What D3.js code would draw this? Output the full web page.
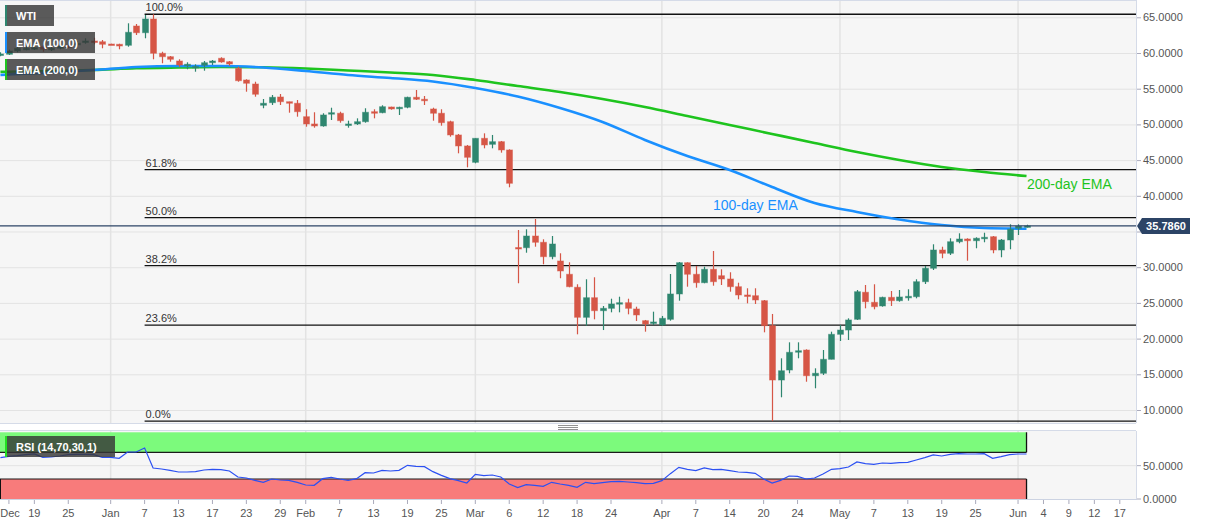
<!DOCTYPE html>
<html><head><meta charset="utf-8">
<script src="https://cdn.jsdelivr.net/npm/d3@7"></script>
<style>
body{margin:0;background:#fff;}
svg{display:block;font-family:"Liberation Sans",Arial,sans-serif;}
</style>
</head><body>
<svg id="c" width="1207" height="526"></svg>
<script>
// ---------------- DATA ----------------
const dates = [
"2019-12-13","2019-12-16","2019-12-17","2019-12-18","2019-12-19","2019-12-20","2019-12-23","2019-12-24","2019-12-25","2019-12-26","2019-12-27","2019-12-30","2019-12-31",
"2020-01-01","2020-01-02","2020-01-03","2020-01-06","2020-01-07","2020-01-08","2020-01-09","2020-01-10","2020-01-13","2020-01-14","2020-01-15","2020-01-16","2020-01-17","2020-01-20","2020-01-21","2020-01-22","2020-01-23","2020-01-24","2020-01-27","2020-01-28","2020-01-29","2020-01-30","2020-01-31",
"2020-02-03","2020-02-04","2020-02-05","2020-02-06","2020-02-07","2020-02-10","2020-02-11","2020-02-12","2020-02-13","2020-02-14","2020-02-17","2020-02-18","2020-02-19","2020-02-20","2020-02-21","2020-02-24","2020-02-25","2020-02-26","2020-02-27","2020-02-28",
"2020-03-02","2020-03-03","2020-03-04","2020-03-05","2020-03-06","2020-03-09","2020-03-10","2020-03-11","2020-03-12","2020-03-13","2020-03-16","2020-03-17","2020-03-18","2020-03-19","2020-03-20","2020-03-23","2020-03-24","2020-03-25","2020-03-26","2020-03-27","2020-03-30","2020-03-31",
"2020-04-01","2020-04-02","2020-04-03","2020-04-06","2020-04-07","2020-04-08","2020-04-09","2020-04-13","2020-04-14","2020-04-15","2020-04-16","2020-04-17","2020-04-20","2020-04-21","2020-04-22","2020-04-23","2020-04-24","2020-04-27","2020-04-28","2020-04-29","2020-04-30",
"2020-05-01","2020-05-04","2020-05-05","2020-05-06","2020-05-07","2020-05-08","2020-05-11","2020-05-12","2020-05-13","2020-05-14","2020-05-15","2020-05-18","2020-05-19","2020-05-20","2020-05-21","2020-05-22","2020-05-25","2020-05-26","2020-05-27","2020-05-28","2020-05-29",
"2020-06-01","2020-06-02"];
const futureDates = ["2020-06-03","2020-06-04","2020-06-05","2020-06-08","2020-06-09","2020-06-10","2020-06-11","2020-06-12","2020-06-15","2020-06-16","2020-06-17"];

const open = [
59.82,59.82,60.28,60.63,60.70,60.88,60.60,60.66,60.98,61.26,61.64,61.68,61.58,
61.26,61.22,61.08,63.78,62.84,64.76,59.96,59.48,58.88,58.32,58.04,58.28,58.64,59.26,58.78,57.86,56.22,55.66,52.68,53.04,53.84,53.18,52.96,
51.08,50.06,49.78,51.56,51.56,50.01,50.06,50.38,51.78,51.64,52.44,52.26,52.40,53.80,53.52,52.16,51.56,50.38,48.52,46.98,
44.69,48.05,47.21,47.58,46.42,32.76,32.73,34.37,33.49,31.47,30.87,29.01,27.19,22.98,25.73,23.91,24.24,24.99,25.03,24.15,22.51,22.19,
21.91,22.70,26.25,30.63,29.01,27.83,29.71,28.81,28.35,27.27,26.11,26.01,25.31,21.81,14.20,15.60,18.26,18.40,14.80,15.14,17.10,
20.60,21.20,22.70,26.49,25.08,24.57,25.78,25.31,25.83,25.87,27.97,29.85,32.41,31.95,33.57,33.95,33.71,34.13,34.27,32.41,33.81,
35.45,35.74];
const high = [
60.10,60.46,60.88,61.02,61.12,61.12,61.02,61.22,61.16,61.68,62.06,62.14,61.82,
61.30,61.30,64.16,64.06,65.32,65.43,60.18,59.58,59.12,58.70,58.42,58.88,59.02,59.40,58.88,58.08,56.32,55.98,53.56,54.12,54.26,53.18,53.42,
52.12,51.70,51.56,52.34,51.78,50.52,50.85,52.26,52.12,52.68,52.48,52.48,53.88,54.82,53.98,52.34,52.12,50.52,48.66,47.12,
48.05,48.75,48.52,47.68,46.51,35.21,35.31,36.75,33.91,34.37,31.95,30.69,27.61,28.31,28.59,24.57,25.59,25.87,25.59,24.47,22.61,23.77,
23.17,29.05,30.73,30.69,30.17,30.07,32.27,29.71,29.29,27.83,27.05,27.05,25.41,23.45,17.24,19.48,19.48,18.50,15.84,18.40,20.97,
21.91,22.84,26.81,27.51,27.61,25.87,26.67,26.81,26.91,28.31,30.17,33.21,32.87,34.05,34.75,34.05,34.19,34.83,34.37,33.95,36.01,
36.01,35.95];
const low = [
59.54,59.72,60.10,60.38,60.42,60.18,60.28,60.52,60.66,61.02,61.30,61.22,60.66,
61.18,60.52,60.88,62.52,62.06,59.12,58.56,58.78,58.08,57.72,57.38,57.52,58.32,58.64,58.22,55.98,54.58,53.88,52.26,52.72,52.72,51.64,51.08,
49.68,49.54,49.68,50.62,50.24,49.54,49.92,50.24,50.85,51.56,52.06,51.32,52.26,53.42,52.72,50.52,49.82,48.28,45.95,43.99,
44.55,46.65,46.65,46.04,41.19,27.75,32.03,32.87,30.41,31.11,28.45,27.19,20.60,21.81,22.70,21.20,23.68,23.68,23.40,22.47,20.97,21.91,
21.77,22.51,25.31,27.27,27.13,27.75,27.41,27.51,26.57,25.50,24.94,24.85,20.88,8.44,11.78,15.14,17.24,13.96,13.04,14.90,17.10,
19.66,19.80,22.61,24.24,24.10,24.47,24.57,25.17,25.31,25.64,27.65,29.61,31.25,31.71,33.35,30.91,32.65,33.49,31.95,31.39,32.51,
34.51,35.55];
const close = [
59.86,60.28,60.66,60.66,60.74,60.52,60.66,60.98,60.84,61.36,61.68,61.64,61.22,
61.22,60.98,62.90,62.84,64.76,59.96,59.48,59.12,58.32,58.42,58.11,58.64,58.88,58.74,58.46,56.12,55.76,54.22,52.96,53.80,53.18,52.96,51.78,
50.06,49.78,51.32,51.64,50.52,50.06,50.38,51.70,51.56,52.48,52.16,52.40,53.80,53.52,53.46,51.56,50.24,48.52,46.98,45.39,
48.05,47.12,47.58,46.42,41.75,32.69,34.37,33.49,31.47,33.25,29.47,27.27,22.98,25.73,23.91,24.24,24.85,25.03,24.24,23.31,22.05,22.33,
22.84,26.25,30.63,29.01,27.83,29.71,27.97,28.35,27.27,26.11,26.01,25.41,21.81,14.20,15.50,18.08,18.30,14.80,15.14,17.10,20.60,
21.20,22.61,26.57,25.17,24.47,25.78,25.31,25.83,25.92,27.97,29.85,32.41,31.95,33.57,33.95,33.71,34.05,34.19,32.41,33.81,35.31,
35.75,35.786];

const rsi = [
62,64,65,66.5,67.5,62.5,63,64.5,66.5,67,67,66.5,62.5,
62.5,61,70.5,70.5,76.5,46.5,45,43,40.5,40.5,41,43.5,44.5,44,42,33,31.5,28,25,30,28.5,28,25,
21,20.5,30.5,32.5,30,28,30.5,39.5,39,43,42,43,50.5,49,48.5,41,35.5,30.5,27.5,24,
37,35,36,33,22.5,17,21.5,20.5,19,25,22.5,20.5,17.5,25,23,24.5,26,26.5,25.5,24.5,23,23.5,
27.5,38,47.5,44.5,42.5,46.5,44,44.5,42.5,40.5,40,38.5,30,24,28,34.5,34,30,31.5,37.5,44.5,
45.5,48,55.5,53,52,54,53.5,54.5,55,58.5,62,66,64.5,67,68,67.5,67.5,68,61,63.5,66.5,
67.5,67.5];

const emaDates = ["2019-12-13","2019-12-16","2019-12-23","2019-12-30","2020-01-06","2020-01-13","2020-01-20","2020-01-27","2020-02-03","2020-02-10","2020-02-17","2020-02-24","2020-03-02","2020-03-09","2020-03-16","2020-03-23","2020-03-30","2020-04-06","2020-04-14","2020-04-21","2020-04-28","2020-05-05","2020-05-12","2020-05-19","2020-05-26","2020-06-02"];
const ema100 = [56.92,56.99,57.27,57.62,58.04,58.18,58.18,57.97,57.48,56.92,56.50,56.01,55.10,53.91,52.30,50.34,47.82,45.57,43.61,41.23,38.99,37.73,36.68,35.91,35.49,35.39];
const ema200 = [57.36,57.38,57.48,57.62,57.86,57.97,58.04,58.00,57.83,57.55,57.27,56.92,56.22,55.38,54.54,53.56,52.44,51.18,49.92,48.66,47.40,46.13,45.01,44.03,43.33,42.77];

const priceTicks = [10,15,20,25,30,35,40,45,50,55,60,65];
const rsiTicks = [0,50];
const monthStarts = ["2020-01-01","2020-02-03","2020-03-02","2020-04-01","2020-05-01","2020-06-01"];
const tickDates = ["2019-12-16","2019-12-19","2019-12-25","2020-01-01","2020-01-07","2020-01-13","2020-01-17","2020-01-23","2020-01-29","2020-02-03","2020-02-07","2020-02-13","2020-02-19","2020-02-25","2020-03-02","2020-03-06","2020-03-12","2020-03-18","2020-03-24","2020-04-01","2020-04-07","2020-04-14","2020-04-20","2020-04-24","2020-05-01","2020-05-07","2020-05-13","2020-05-19","2020-05-25","2020-06-01","2020-06-04","2020-06-09","2020-06-12","2020-06-17"];
const tickLabels = ["Dec","19","25","Jan","7","13","17","23","29","Feb","7","13","19","25","Mar","6","12","18","24","Apr","7","14","20","24","May","7","13","19","25","Jun","4","9","12","17"];
const fibLevels = [0,0.236,0.382,0.5,0.618,1];
const fibLabels = ["0.0%","23.6%","38.2%","50.0%","61.8%","100.0%"];
const fibStart = "2020-01-07";

// ---------------- CHART ----------------
const svg = d3.select("#c");
const mainL = 0, mainR = 1136, mainT = 1, mainB = 423;
const rsiT = 431, rsiB = 499;
const UP = "#2e866f", DOWN = "#d65646";

const axisDays = dates.concat(futureDates);
const x = d3.scalePoint().domain(axisDays).range([0.44, 1119.8]);
const y = d3.scaleLinear().domain([10, 65]).range([410, 17.3]);
const yR = d3.scaleLinear().domain([0, 100]).range([499, 432.3]);

const defs = svg.append("defs");
defs.append("clipPath").attr("id","cm").append("rect").attr("x",mainL).attr("y",mainT).attr("width",mainR-mainL).attr("height",mainB-mainT);
defs.append("clipPath").attr("id","cr").append("rect").attr("x",mainL).attr("y",rsiT).attr("width",mainR-mainL).attr("height",rsiB-rsiT);

// panels
svg.append("rect").attr("x",mainL).attr("y",mainT).attr("width",mainR-mainL).attr("height",mainB-mainT).attr("fill","#f6f6f6");
svg.append("rect").attr("x",mainL).attr("y",rsiT).attr("width",mainR-mainL).attr("height",rsiB-rsiT).attr("fill","#f6f6f6");

const gm = svg.append("g").attr("clip-path","url(#cm)");
const gr = svg.append("g").attr("clip-path","url(#cr)");

// grid
gm.selectAll("line.hg").data(priceTicks).join("line")
  .attr("x1",mainL).attr("x2",mainR).attr("y1",d=>y(d)+0.5).attr("y2",d=>y(d)+0.5)
  .attr("stroke","#e3e3e3").attr("stroke-width",1);
gm.selectAll("line.vg").data(monthStarts).join("line")
  .attr("x1",d=>x(d)).attr("x2",d=>x(d)).attr("y1",mainT).attr("y2",mainB)
  .attr("stroke","#e3e3e3").attr("stroke-width",1.5);
gr.selectAll("line.vg").data(monthStarts).join("line")
  .attr("x1",d=>x(d)).attr("x2",d=>x(d)).attr("y1",rsiT).attr("y2",rsiB)
  .attr("stroke","#e3e3e3").attr("stroke-width",1.5);
gr.append("line").attr("x1",mainL).attr("x2",mainR).attr("y1",yR(50)).attr("y2",yR(50)).attr("stroke","#e3e3e3");

// fib
const H = d3.max(high), L = d3.min(low);
const fx = x(fibStart);
fibLevels.forEach((p,i)=>{
  const yy = y(L + p*(H-L));
  gm.append("line").attr("x1",fx).attr("x2",mainR).attr("y1",yy).attr("y2",yy).attr("stroke","#111").attr("stroke-width",1.3);
  gm.append("text").attr("x",fx+1).attr("y",yy-3).attr("font-size",11).attr("fill","#333").text(fibLabels[i]);
});

// EMA lines
const line = d3.line().x(d=>x(d[0])).y(d=>y(d[1])).curve(d3.curveMonotoneX);
gm.append("path").datum(emaDates.map((d,i)=>[d,ema200[i]])).attr("d",line)
  .attr("fill","none").attr("stroke","#1ec41e").attr("stroke-width",2.6);
gm.append("path").datum(emaDates.map((d,i)=>[d,ema100[i]])).attr("d",line)
  .attr("fill","none").attr("stroke","#1a90ff").attr("stroke-width",2.6);

// candles
const candles = dates.map((d,i)=>({d, o:open[i], h:high[i], l:low[i], c:close[i]}));
const cg = gm.append("g");
cg.selectAll("line.w").data(candles).join("line")
  .attr("x1",d=>Math.round(x(d.d))+0.5).attr("x2",d=>Math.round(x(d.d))+0.5)
  .attr("y1",d=>y(d.h)).attr("y2",d=>y(d.l))
  .attr("stroke",d=>d.c>=d.o?UP:DOWN).attr("stroke-width",1.2);
cg.selectAll("rect.b").data(candles).join("rect")
  .attr("x",d=>Math.round(x(d.d))-2.5).attr("width",6)
  .attr("y",d=>y(Math.max(d.o,d.c)))
  .attr("height",d=>Math.max(1.5, Math.abs(y(d.o)-y(d.c))))
  .attr("fill",d=>d.c>=d.o?UP:DOWN)
  .attr("stroke",d=>d.c>=d.o?"rgba(46,134,111,0.45)":"rgba(214,86,70,0.45)").attr("stroke-width",1);

// current price line
const last = close[close.length-1];
const yl = y(last);
gm.append("line").attr("x1",mainL).attr("x2",mainR).attr("y1",yl).attr("y2",yl).attr("stroke","#2c4466").attr("stroke-width",1.2);

// annotations
gm.append("text").attr("x",713).attr("y",210).attr("font-size",14).attr("fill","#1a90ff").text("100-day EMA");
gm.append("text").attr("x",1027).attr("y",189).attr("font-size",14).attr("fill","#1ec41e").text("200-day EMA");

// RSI bands
const xe = x(dates[dates.length-1]);
gr.append("rect").attr("x",mainL).attr("y",yR(100)).attr("width",xe-mainL).attr("height",yR(70)-yR(100)).attr("fill","#7cfa7c");
gr.append("rect").attr("x",mainL).attr("y",yR(30)).attr("width",xe-mainL).attr("height",yR(0)-yR(30)).attr("fill","#f87b7b");
[70,30].forEach(v=>{
  gr.append("line").attr("x1",mainL).attr("x2",xe).attr("y1",yR(v)).attr("y2",yR(v)).attr("stroke","#1b1b1b").attr("stroke-width",1.2);
});
gr.append("line").attr("x1",xe).attr("x2",xe).attr("y1",yR(100)).attr("y2",yR(70)).attr("stroke","#111").attr("stroke-width",1.3);
gr.append("line").attr("x1",xe).attr("x2",xe).attr("y1",yR(30)).attr("y2",yR(0)).attr("stroke","#111").attr("stroke-width",1.3);
gr.append("line").attr("x1",0.5).attr("x2",0.5).attr("y1",yR(30)).attr("y2",yR(0)).attr("stroke","#111").attr("stroke-width",1);
gr.append("path").datum(dates.map((d,i)=>[d,rsi[i]]))
  .attr("d",d3.line().x(d=>x(d[0])).y(d=>yR(d[1])))
  .attr("fill","none").attr("stroke","#2c50f2").attr("stroke-width",1.2);

// panel borders
svg.append("line").attr("x1",mainL).attr("x2",mainR).attr("y1",0.5).attr("y2",0.5).attr("stroke","#d5dbe8");
svg.append("line").attr("x1",mainR+0.5).attr("x2",mainR+0.5).attr("y1",0).attr("y2",mainB).attr("stroke","#d5dbe8");
svg.append("line").attr("x1",mainL).attr("x2",mainR).attr("y1",mainB+0.5).attr("y2",mainB+0.5).attr("stroke","#d5dbe8");
svg.append("line").attr("x1",mainL).attr("x2",mainR).attr("y1",rsiT-0.5).attr("y2",rsiT-0.5).attr("stroke","#d5dbe8");
svg.append("line").attr("x1",mainR+0.5).attr("x2",mainR+0.5).attr("y1",rsiT).attr("y2",rsiB).attr("stroke","#d5dbe8");
svg.append("line").attr("x1",mainL).attr("x2",mainR+1).attr("y1",rsiB+0.5).attr("y2",rsiB+0.5).attr("stroke","#ccd3e2");
// splitter handle
[425.5,427.5,429.5].forEach(yy=>svg.append("line").attr("x1",558).attr("x2",578).attr("y1",yy).attr("y2",yy).attr("stroke","#777").attr("stroke-width",0.8));

// right axes
const fmt = d3.format(".4f");
const last2 = close[close.length-1];
const ya = svg.append("g");
ya.selectAll("line").data(priceTicks).join("line").attr("x1",mainR+1).attr("x2",mainR+5).attr("y1",d=>y(d)+0.5).attr("y2",d=>y(d)+0.5).attr("stroke","#aab");
// labels hidden behind the current-price box are not drawn
ya.selectAll("text").data(priceTicks.filter(d=>Math.abs(y(d)-y(last2))>14)).join("text").attr("x",mainR+7).attr("y",d=>y(d)+4).attr("font-size",11).attr("fill","#555").text(d=>fmt(d));
const ra = svg.append("g");
ra.selectAll("line").data(rsiTicks).join("line").attr("x1",mainR+1).attr("x2",mainR+5).attr("y1",d=>yR(d)).attr("y2",d=>yR(d)).attr("stroke","#aab");
ra.selectAll("text").data(rsiTicks).join("text").attr("x",mainR+7).attr("y",d=>yR(d)+4).attr("font-size",11).attr("fill","#555").text(d=>fmt(d));

// price box
const pb = svg.append("g");
pb.append("path").attr("d",`M${mainR+1},${yl} L${mainR+6},${yl-8} L${mainR+54},${yl-8} L${mainR+54},${yl+8} L${mainR+6},${yl+8} Z`).attr("fill","#2c4466");
pb.append("text").attr("x",mainR+30).attr("y",yl+4).attr("text-anchor","middle").attr("font-size",11).attr("font-weight","bold").attr("fill","#fff").text(fmt(last));

// x axis
const xa = svg.append("g");
xa.selectAll("line").data(tickDates).join("line").attr("x1",d=>x(d)).attr("x2",d=>x(d)).attr("y1",rsiB+1).attr("y2",rsiB+5).attr("stroke","#aab");
xa.selectAll("text").data(tickDates).join("text").attr("x",(d,i)=>i===0?Math.max(x(d),10):x(d)).attr("y",517).attr("text-anchor","middle").attr("font-size",11).attr("fill","#555").text((d,i)=>tickLabels[i]);

// legend boxes
const legends = [
  {t:"WTI", y:5, w:49, c:"#2e866f"},
  {t:"EMA (100,0)", y:32, w:90, c:"#1a90ff"},
  {t:"EMA (200,0)", y:59, w:90, c:"#1ec41e"},
  {t:"RSI (14,70,30,1)", y:436, w:110, c:"#22e022"}
];
legends.forEach(l=>{
  svg.append("rect").attr("x",5).attr("y",l.y).attr("width",l.w).attr("height",21).attr("fill","rgba(55,55,55,0.82)");
  svg.append("rect").attr("x",5).attr("y",l.y).attr("width",2).attr("height",21).attr("fill",l.c);
  svg.append("text").attr("x",16).attr("y",l.y+15).attr("font-size",11).attr("font-weight","bold").attr("fill","#fff").text(l.t);
});
</script>
</body></html>
